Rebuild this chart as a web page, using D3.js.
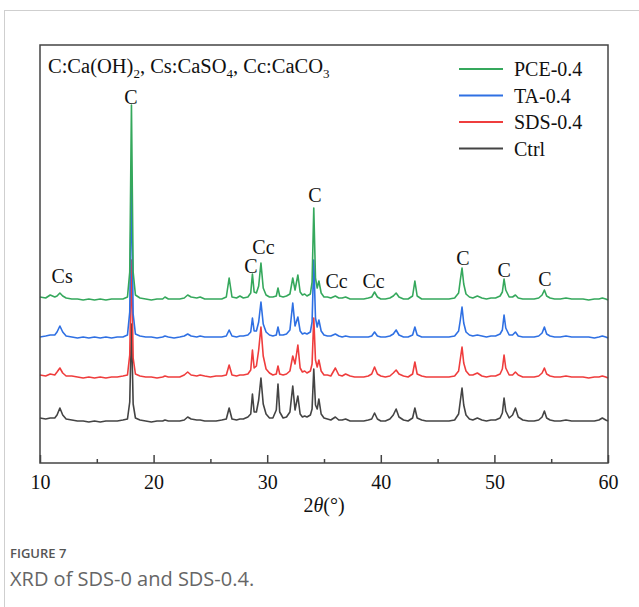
<!DOCTYPE html>
<html>
<head>
<meta charset="utf-8">
<title>XRD of SDS-0 and SDS-0.4</title>
<style>
  body { margin: 0; background: #fff; }
  .serif { font-family: "Liberation Serif", "Times New Roman", serif; fill: #111; }
  .axis-x path { display: none; }
  .axis-x line { stroke: #444; stroke-width: 1.5; }
  .axis-x text { font-family: "Liberation Serif", serif; font-size: 20px; fill: #111; }
  .trace { fill: none; stroke-width: 1.6; stroke-linejoin: round; }
  .caption-head { font-family: "Open Sans", sans-serif; font-size: 13px; font-weight: 600; fill: #555; }
  .caption { font-family: "Open Sans", sans-serif; font-size: 20px; fill: #666; }
</style>
</head>
<body>
<div id="chart"></div>
<script src="https://d3js.org/d3.v7.min.js"></script>
<script>
// 2theta sample points (deg)
var twoTheta = [
  10.0, 10.5, 10.9, 11.3, 11.5, 11.75, 12.0, 12.3, 12.8, 13.3,
  13.8, 14.3, 14.8, 15.3, 15.8, 16.3, 16.8, 17.3, 17.7, 17.9,
  18.05, 18.2, 18.4, 18.8, 19.3, 19.8, 20.3, 20.8, 21.0, 21.3,
  21.8, 22.3, 22.7, 23.0, 23.3, 23.8, 24.1, 24.5, 25.0, 25.5,
  26.0, 26.4, 26.65, 26.9, 27.3, 27.6, 27.9, 28.3, 28.55, 28.7,
  28.85, 29.05, 29.25, 29.45, 29.65, 29.9, 30.2, 30.5, 30.8, 30.95,
  31.1, 31.4, 31.7, 32.0, 32.25, 32.45, 32.7, 32.9, 33.1, 33.3,
  33.5, 33.8, 33.95, 34.1, 34.25, 34.4, 34.55, 34.75, 35.0, 35.3,
  35.6, 36.0, 36.3, 36.6, 36.9, 37.3, 37.7, 38.1, 38.5, 38.9,
  39.2, 39.45, 39.7, 40.0, 40.4, 40.8, 41.1, 41.35, 41.6, 42.0,
  42.4, 42.8, 43.0, 43.2, 43.6, 44.0, 44.5, 45.0, 45.5, 46.0,
  46.5, 46.85, 47.0, 47.15, 47.3, 47.5, 47.8, 48.1, 48.5, 48.9,
  49.3, 49.7, 50.1, 50.5, 50.7, 50.85, 51.0, 51.3, 51.6, 51.85,
  52.1, 52.5, 53.0, 53.5, 53.9, 54.2, 54.4, 54.6, 54.9, 55.3,
  55.8, 56.3, 56.8, 57.3, 57.8, 58.3, 58.8, 59.2, 59.5, 59.8, 60.0
];

// intensities (a.u.)
var pce = [
  5, 4, 7, 5, 6, 9, 6, 4, 3, 3,
  2, 3, 2, 3, 2, 3, 3, 3, 5, 30,
  197, 30, 7, 4, 3, 2, 3, 3, 5, 3,
  3, 3, 4, 7, 5, 4, 5, 3, 3, 3,
  3, 5, 24, 5, 4, 6, 4, 5, 9, 28,
  10, 9, 16, 39, 14, 7, 5, 5, 6, 14,
  6, 5, 6, 8, 24, 12, 27, 10, 7, 8,
  6, 8, 20, 94, 24, 14, 21, 9, 5, 5,
  4, 6, 4, 4, 5, 3, 3, 3, 3, 4,
  5, 10, 5, 3, 3, 4, 6, 9, 5, 3,
  3, 6, 21, 6, 3, 3, 3, 3, 3, 3,
  4, 9, 22, 34, 18, 8, 5, 4, 6, 4,
  3, 4, 4, 6, 10, 23, 12, 5, 5, 7,
  4, 3, 3, 3, 4, 7, 12, 6, 4, 3,
  3, 4, 3, 3, 3, 2, 3, 3, 4, 3, 2
];
var ta = [
  3, 4, 5, 5, 8, 14, 8, 4, 3, 2,
  3, 2, 3, 2, 3, 2, 3, 3, 5, 28,
  160, 26, 6, 4, 3, 3, 2, 3, 4, 3,
  2, 3, 4, 6, 4, 3, 4, 3, 3, 3,
  3, 4, 10, 4, 3, 4, 4, 5, 8, 22,
  9, 9, 18, 38, 16, 8, 5, 4, 5, 13,
  5, 5, 6, 10, 37, 14, 23, 9, 6, 7,
  6, 8, 18, 80, 22, 13, 20, 9, 5, 4,
  4, 6, 4, 3, 4, 3, 3, 3, 3, 3,
  4, 8, 4, 3, 3, 4, 6, 10, 5, 3,
  3, 5, 13, 5, 3, 3, 3, 3, 3, 3,
  4, 9, 20, 33, 17, 8, 5, 4, 5, 4,
  3, 4, 4, 6, 10, 25, 12, 5, 5, 8,
  4, 3, 3, 3, 4, 7, 13, 6, 4, 3,
  3, 4, 3, 3, 3, 3, 2, 3, 4, 3, 2
];
var sds = [
  5, 4, 6, 5, 8, 12, 7, 4, 4, 3,
  2, 3, 2, 3, 2, 3, 3, 4, 5, 25,
  120, 22, 6, 4, 3, 3, 2, 3, 4, 3,
  3, 3, 5, 8, 5, 4, 5, 4, 3, 4,
  4, 5, 15, 5, 4, 5, 5, 6, 10, 30,
  12, 14, 30, 53, 24, 11, 7, 5, 6, 14,
  6, 5, 6, 9, 24, 16, 35, 12, 8, 9,
  7, 9, 16, 62, 20, 13, 20, 9, 5, 5,
  4, 12, 5, 4, 6, 4, 3, 3, 3, 4,
  6, 13, 6, 4, 3, 4, 7, 10, 6, 4,
  3, 6, 18, 6, 4, 3, 3, 3, 3, 3,
  4, 9, 21, 33, 17, 9, 5, 5, 7, 4,
  3, 4, 4, 6, 11, 25, 12, 5, 5, 8,
  5, 3, 3, 3, 4, 7, 12, 6, 4, 3,
  3, 4, 3, 3, 3, 2, 3, 3, 4, 3, 2
];
var ctrl = [
  6, 5, 6, 6, 9, 16, 9, 5, 4, 3,
  3, 2, 3, 2, 3, 3, 3, 4, 5, 22,
  100, 20, 6, 4, 3, 2, 3, 3, 4, 3,
  3, 3, 4, 7, 5, 4, 4, 3, 3, 3,
  4, 5, 16, 5, 4, 5, 5, 7, 10, 30,
  12, 12, 24, 46, 20, 10, 6, 6, 14, 40,
  12, 6, 7, 12, 38, 14, 28, 10, 7, 8,
  7, 9, 15, 55, 19, 15, 25, 10, 6, 5,
  4, 7, 4, 4, 5, 3, 3, 3, 3, 4,
  5, 11, 5, 3, 3, 5, 9, 15, 7, 4,
  3, 6, 16, 6, 4, 3, 3, 3, 3, 3,
  4, 10, 23, 36, 19, 9, 5, 4, 6, 4,
  3, 4, 4, 6, 11, 26, 13, 6, 9, 16,
  7, 4, 3, 3, 4, 7, 13, 6, 4, 3,
  3, 4, 3, 3, 3, 3, 3, 4, 6, 4, 3
];

var seriesNames = ["PCE-0.4", "TA-0.4", "SDS-0.4", "Ctrl"];
var seriesValues = [pce, ta, sds, ctrl];
var stackOffsets = [161, 123, 83, 39];
var seriesColors = ["#35a85c", "#2f70e3", "#ef3d3d", "#444444"];

var xTicks = [10, 20, 30, 40, 50, 60];
var xMinorTicks = [15, 25, 35, 45, 55];

// phase labels: text, 2theta, height on the intensity axis
var peakText = ["Cs", "C", "C", "Cc", "C", "Cc", "Cc", "C", "C", "C"];
var peakPos = [11.95, 18.0, 28.57, 29.67, 34.2, 36.1, 39.36, 47.24, 50.85, 54.45];
var peakLevel = [180, 359, 190, 209, 261, 175, 175, 198, 186, 177];

var W = 639, H = 607;
var plot = { left: 40, right: 608, top: 45, bottom: 463 };

var svg = d3.select("#chart").append("svg")
  .attr("width", W)
  .attr("height", H);

// page card borders
svg.append("line").attr("x1", 4).attr("x2", W).attr("y1", 10.5).attr("y2", 10.5)
  .attr("stroke", "#cfcfcf").attr("stroke-width", 1);
svg.append("line").attr("x1", 4.5).attr("x2", 4.5).attr("y1", 10).attr("y2", H)
  .attr("stroke", "#cfcfcf").attr("stroke-width", 1);

var x = d3.scaleLinear().domain([10, 60]).range([plot.left, plot.right]);
var y = d3.scaleLinear().domain([0, 418]).range([plot.bottom, plot.top]);

// x axis, ticks pointing inward
svg.append("g")
  .attr("class", "axis-x")
  .attr("transform", "translate(0," + plot.bottom + ")")
  .call(d3.axisBottom(x).tickValues(xTicks).tickSize(-8).tickPadding(12).tickFormat(d3.format("d")));

svg.append("g")
  .attr("class", "axis-x")
  .attr("transform", "translate(0," + plot.bottom + ")")
  .call(d3.axisBottom(x).tickValues(xMinorTicks).tickSize(-4).tickFormat(""));

// traces (bottom one first so PCE sits on top)
var line = d3.line()
  .x(function(d) { return x(d[0]); })
  .y(function(d) { return y(d[1]); });

for (var s = seriesNames.length - 1; s >= 0; s--) {
  var pts = twoTheta.map(function(t, i) { return [t, seriesValues[s][i] + stackOffsets[s]]; });
  svg.append("path")
    .attr("class", "trace")
    .attr("d", line(pts))
    .attr("stroke", seriesColors[s]);
}

// frame
svg.append("rect")
  .attr("x", plot.left).attr("y", plot.top)
  .attr("width", plot.right - plot.left).attr("height", plot.bottom - plot.top)
  .attr("fill", "none").attr("stroke", "#444").attr("stroke-width", 1.5);

// phase labels
svg.selectAll(".peak-label")
  .data(peakText)
  .enter().append("text")
  .attr("class", "serif peak-label")
  .attr("x", function(d, i) { return x(peakPos[i]); })
  .attr("y", function(d, i) { return y(peakLevel[i]); })
  .attr("text-anchor", "middle")
  .style("font-size", "20px")
  .text(function(d) { return d; });

// key to phases
var key = svg.append("text")
  .attr("class", "serif")
  .attr("x", 48).attr("y", 73)
  .style("font-size", "20.5px");
[["C:Ca(OH)", false], ["2", true], [", Cs:CaSO", false], ["4", true], [", Cc:CaCO", false], ["3", true]]
  .forEach(function(p) {
    var t = key.append("tspan").text(p[0]);
    if (p[1]) t.attr("dy", 5).style("font-size", "13px");
    else if (p[0] !== "C:Ca(OH)") t.attr("dy", -5);
  });

// legend
var legend = svg.selectAll(".legend")
  .data(seriesNames)
  .enter().append("g")
  .attr("class", "legend")
  .attr("transform", function(d, i) { return "translate(459," + (69 + i * 26.5) + ")"; });

legend.append("line")
  .attr("x1", 0).attr("x2", 44)
  .attr("stroke-width", 2)
  .attr("stroke", function(d, i) { return seriesColors[i]; });

legend.append("text")
  .attr("class", "serif")
  .attr("x", 55).attr("dy", "0.35em")
  .style("font-size", "20px")
  .text(function(d) { return d; });

// x axis title
var title = svg.append("text")
  .attr("class", "serif")
  .attr("x", 324).attr("y", 512)
  .attr("text-anchor", "middle")
  .style("font-size", "20px");
title.append("tspan").text("2");
title.append("tspan").style("font-style", "italic").text("\u03b8");
title.append("tspan").text("(\u00b0)");

// caption
svg.append("text").attr("class", "caption-head").attr("x", 10).attr("y", 558).text("FIGURE 7");
svg.append("text").attr("class", "caption").attr("x", 10).attr("y", 586).text("XRD of SDS-0 and SDS-0.4.");
</script>
</body>
</html>
